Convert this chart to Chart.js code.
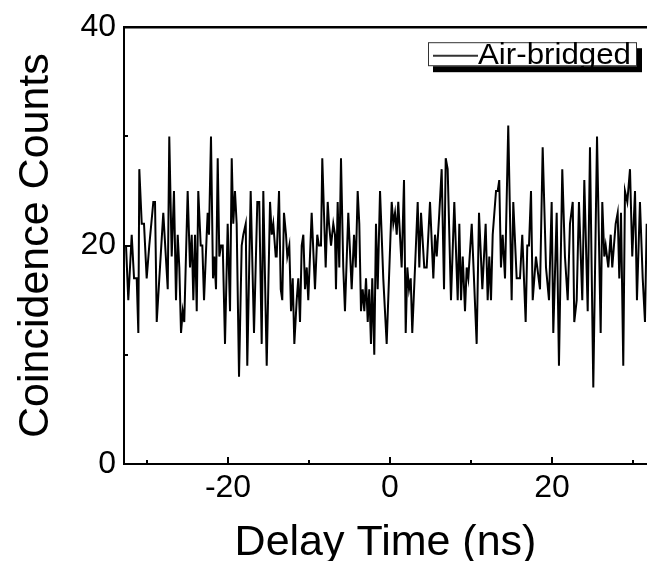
<!DOCTYPE html>
<html>
<head>
<meta charset="utf-8">
<script src="https://cdn.jsdelivr.net/npm/chart.js@4.4.1/dist/chart.umd.min.js"></script>
<style>
    html, body { margin: 0; padding: 0; background: #ffffff; }
    #chartBox { width: 647px; height: 561px; position: relative; }
</style>
</head>
<body>
<div id="chartBox"><canvas id="coincidenceGraph"></canvas></div>
<script>
// delay time of each bin (ns)
const delayTimes = [
    -32.59, -32.31, -31.89, -31.60, -31.27, -31.07, -30.95, -30.65, -30.37, -30.04,
    -29.72, -29.22, -29.01, -28.80, -28.48, -27.99, -27.44, -27.25, -26.95, -26.67,
    -26.42, -26.21, -26.01, -25.80, -25.59, -25.40, -24.98, -24.69, -24.48, -24.28,
    -24.07, -23.86, -23.67, -23.37, -23.17, -22.96, -22.63, -22.51, -22.35, -22.10,
    -21.85, -21.69, -21.48, -21.27, -21.07, -20.86, -20.65, -20.37, -20.04, -19.75,
    -19.54, -19.35, -19.14, -18.93, -18.64, -18.31, -18.11, -17.81, -17.62, -17.20,
    -16.79, -16.38, -16.14, -15.84, -15.64, -15.22, -14.81, -14.60, -14.41, -14.11,
    -13.99, -13.70, -13.49, -13.30, -13.09, -12.84, -12.68, -12.43, -12.22, -12.01,
    -11.81, -11.52, -11.32, -11.11, -10.90, -10.70, -10.49, -10.28, -10.09, -9.67,
    -9.26, -8.98, -8.77, -8.52, -8.36, -7.94, -7.69, -7.53, -7.28, -7.00,
    -6.79, -6.67, -6.46, -6.26, -6.05, -5.77, -5.56, -5.15, -4.73, -4.44,
    -4.23, -3.99, -3.79, -3.58, -3.37, -3.17, -2.96, -2.75, -2.56, -2.35,
    -2.19, -1.94, -1.73, -1.52, -1.23, -0.83, -0.41, 0.21, 0.41, 0.62,
    0.83, 1.02, 1.44, 1.73, 1.94, 2.14, 2.35, 2.56, 2.75, 3.09,
    3.42, 3.62, 3.83, 4.23, 4.53, 4.94, 5.35, 5.56, 5.77, 6.09,
    6.38, 6.67, 6.88, 7.12, 7.53, 7.94, 8.36, 8.56, 8.77, 8.98,
    9.26, 9.47, 9.67, 10.09, 10.70, 10.99, 11.40, 11.81, 12.06, 12.26,
    12.47, 12.68, 13.09, 13.30, 13.49, 13.70, 13.91, 14.20, 14.60, 15.02,
    15.22, 15.64, 16.05, 16.33, 16.75, 16.95, 17.16, 17.41, 17.62, 18.02,
    18.52, 18.85, 19.26, 19.63, 19.96, 20.16, 20.58, 20.86, 21.27, 21.60,
    21.94, 22.22, 22.56, 22.75, 23.05, 23.33, 23.74, 23.99, 24.41, 24.69,
    25.10, 25.56, 26.01, 26.21, 26.46, 26.63, 26.95, 27.25, 27.44, 27.86,
    28.11, 28.31, 28.52, 28.80, 29.01, 29.30, 29.63, 29.91, 30.25, 30.49,
    30.86, 31.20, 31.48, 31.69
];

// coincidence counts for each bin
const airBridgedCounts = [
    20, 15, 21, 17, 17, 12, 27, 22, 22, 17, 20, 24, 24, 13, 17, 23, 16, 30, 19, 25,
    15, 21, 18, 12, 14, 13, 25,
    18, 21, 15, 21, 14, 25, 20, 20, 15, 21, 23, 21, 30, 17, 19, 16, 28, 19, 20, 20,
    11, 22, 14, 28, 22, 25, 22, 8, 20, 21, 22, 9, 25,
    12, 24, 24, 11, 25, 9, 24, 21, 22, 19, 19, 25, 16, 15, 23, 21, 19, 20, 14, 17,
    11, 15, 17, 13, 20, 21, 16, 18, 15, 23, 16,
    21, 20, 20, 28, 18, 24, 22, 20, 22, 21, 16, 24, 18, 28, 18, 14, 23, 16, 21, 18,
    25, 22, 14, 16, 14, 17, 13, 16, 11, 17, 10, 22, 16, 25,
    17, 11, 24, 22, 23, 21, 24, 18, 26, 12, 18, 16, 17, 12, 18, 24, 18, 23, 18, 18,
    24, 17, 21, 19, 23, 27, 16, 28,
    27, 15, 24, 15, 22, 15, 19, 14, 18, 17, 22, 11, 23, 16, 22, 15, 19, 15, 21, 25,
    25, 26, 18, 21, 17, 31, 15, 24,
    17, 17, 21, 13, 20, 20, 25, 15, 19, 16, 29, 18, 15, 24, 12, 23, 9, 27, 19, 15,
    22, 24, 13, 15, 24,
    15, 26, 14, 29, 7, 30, 12, 24, 19, 20, 18, 21, 18, 22, 23, 17, 23, 9, 25, 24,
    27, 19, 25, 15, 24, 17, 13, 22
];

// axis ranges and ticks
const xRange = [-32.84, 31.73];
const yRange = [0, 40];
const xMajorTicks = [-20, 0, 20];
const xMinorTicks = [-30, -10, 10, 30];
const yMajorTicks = [0, 20, 40];
const yMinorTicks = [10, 30];
const seriesLabel = "Air-bridged";
const xTitle = "Delay Time (ns)";
const yTitle = "Coincidence Counts";

const fontFamily = "'Liberation Sans', Arial, sans-serif";

// inward tick marks plus the top frame line
const frameTicksPlugin = {
    id: "frameTicks",
    afterDatasetsDraw(chart) {
        const ctx = chart.ctx;
        const area = chart.chartArea;
        const xs = chart.scales.x;
        const ys = chart.scales.y;
        ctx.save();
        ctx.strokeStyle = "#000";
        ctx.lineWidth = 2.5;
        ctx.beginPath();
        ctx.moveTo(area.left - 1, area.top);
        ctx.lineTo(area.right, area.top);
        ctx.stroke();
        ctx.lineWidth = 2;
        ctx.beginPath();
        const mark = (vals, len, horiz) => {
            vals.forEach(v => {
                if (horiz) {
                    const px = Math.round(xs.getPixelForValue(v));
                    ctx.moveTo(px, area.bottom);
                    ctx.lineTo(px, area.bottom - len);
                } else {
                    const py = Math.round(ys.getPixelForValue(v));
                    ctx.moveTo(area.left, py);
                    ctx.lineTo(area.left + len, py);
                }
            });
        };
        mark(xMajorTicks, 7, true);
        mark(xMinorTicks, 4, true);
        mark(yMajorTicks.filter(v => v > yRange[0] && v < yRange[1]), 7, false);
        mark(yMinorTicks, 4, false);
        ctx.stroke();
        ctx.restore();
    }
};

// boxed legend with a drop shadow in the top right corner
const shadowLegendPlugin = {
    id: "shadowLegend",
    afterDraw(chart) {
        const ctx = chart.ctx;
        const area = chart.chartArea;
        const w = 209, h = 24;
        const bx = area.right - 10 - w;
        const by = area.top + 15;
        ctx.save();
        ctx.fillStyle = "#000";
        ctx.fillRect(bx + 5, by + 6, w, h);
        ctx.fillStyle = "#fff";
        ctx.fillRect(bx, by, w, h);
        ctx.strokeStyle = "#333";
        ctx.lineWidth = 1;
        ctx.strokeRect(bx + 0.5, by + 0.5, w - 1, h - 1);
        ctx.beginPath();
        ctx.lineWidth = 2;
        ctx.moveTo(bx + 5, by + 13.5);
        ctx.lineTo(bx + 50, by + 13.5);
        ctx.stroke();
        // legend text, fitted to the width it has in the original
        ctx.fillStyle = "#000";
        ctx.font = "29px " + fontFamily;
        ctx.textBaseline = "alphabetic";
        const label = chart.data.datasets[0].label;
        const sx = 153 / ctx.measureText(label).width;
        ctx.translate(bx + 50, by + 22);
        ctx.scale(sx, 1);
        ctx.fillText(label, 0, 0);
        ctx.restore();
    }
};

// build config for the coincidence graph
function _build_coincidence_config() {
    const points = delayTimes.map((t, i) => ({ x: t, y: airBridgedCounts[i] }));
    var config = {
        type: "line",
        data: {
            datasets: [{
                label: seriesLabel,
                data: points,
                borderColor: "#000",
                borderWidth: 2,
                pointRadius: 0,
                tension: 0,
                fill: false
            }]
        },
        options: {
            responsive: false,
            animation: false,
            layout: { padding: { top: 23, left: 0, right: 0, bottom: 0 } },
            plugins: { legend: { display: false }, tooltip: { enabled: false } },
            scales: {
                x: {
                    type: "linear",
                    min: xRange[0],
                    max: xRange[1],
                    afterBuildTicks: scale => { scale.ticks = xMajorTicks.map(v => ({ value: v })); },
                    afterFit: scale => { scale.height = 97; },
                    grid: { display: true, drawOnChartArea: false, drawTicks: false },
                    border: { display: true, color: "#000", width: 2 },
                    ticks: {
                        color: "#000",
                        padding: 5,
                        maxRotation: 0,
                        font: { family: fontFamily, size: 32 }
                    },
                    title: {
                        display: true,
                        text: xTitle,
                        color: "#000",
                        padding: { top: 0, bottom: 0 },
                        font: { family: fontFamily, size: 43, lineHeight: 0.84 }
                    }
                },
                y: {
                    type: "linear",
                    min: yRange[0],
                    max: yRange[1],
                    afterBuildTicks: scale => { scale.ticks = yMajorTicks.map(v => ({ value: v })); },
                    afterFit: scale => { scale.width = 124; },
                    grid: { display: true, drawOnChartArea: false, drawTicks: false },
                    border: { display: true, color: "#000", width: 2 },
                    ticks: {
                        color: "#000",
                        padding: 8,
                        font: { family: fontFamily, size: 32 }
                    },
                    title: {
                        display: true,
                        text: yTitle,
                        color: "#000",
                        padding: { top: 18, bottom: 0 },
                        font: { family: fontFamily, size: 43, lineHeight: 0.84 }
                    }
                }
            }
        },
        plugins: [frameTicksPlugin, shadowLegendPlugin]
    };
    return config;
}

// function to create the coincidence graph
function create_coincidence_graph() {
    const canvas = document.getElementById("coincidenceGraph");
    canvas.width = 647;
    canvas.height = 561;
    return new Chart(canvas, _build_coincidence_config());
}

create_coincidence_graph();
</script>
</body>
</html>
